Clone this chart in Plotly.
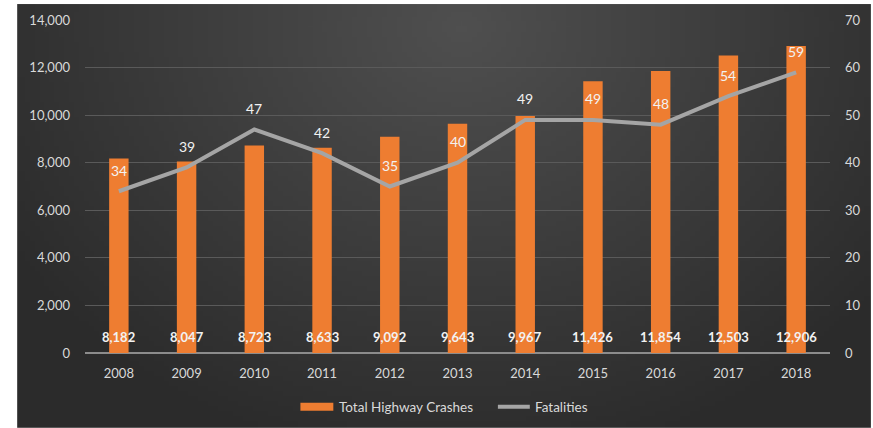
import base64
import struct
import zlib

import plotly.graph_objects as go

# ---- data ----
years = ["2008", "2009", "2010", "2011", "2012", "2013", "2014", "2015", "2016", "2017", "2018"]
total_crashes = [8182, 8047, 8723, 8633, 9092, 9643, 9967, 11426, 11854, 12503, 12906]
fatalities = [34, 39, 47, 42, 35, 40, 49, 49, 48, 54, 59]
series_names = ["Total Highway Crashes", "Fatalities"]

W, H = 873, 428
L, R, T, B = 85, 41, 19, 75
PW, PH = W - L - R, H - T - B

ORANGE = "#ee7d31"
LINE_GRAY = "#a5a5a5"
TEXT = "#d9d9d9"
FONT = "Lato, 'Open Sans', sans-serif"


def px_x(px):
    return (px - L) / PW


def px_y(py):
    return (H - B - py) / PH


def radial_png(w, h, c_in, c_out, cx, cy, rx, ry):
    """Small PNG with a soft radial gray gradient, returned as a data URI."""
    raw = bytearray()
    for j in range(h):
        raw.append(0)
        for i in range(w):
            dx = (i / (w - 1) - cx) / rx
            dy = (j / (h - 1) - cy) / ry
            d = min(1.0, (dx * dx + dy * dy) ** 0.5)
            v = int(round(c_in + (c_out - c_in) * d))
            raw += bytes((v, v, v))

    def chunk(tag, data):
        c = struct.pack(">I", len(data)) + tag + data
        return c + struct.pack(">I", zlib.crc32(tag + data) & 0xFFFFFFFF)

    png = b"\x89PNG\r\n\x1a\n"
    png += chunk(b"IHDR", struct.pack(">IIBBBBB", w, h, 8, 2, 0, 0, 0))
    png += chunk(b"IDAT", zlib.compress(bytes(raw), 9))
    png += chunk(b"IEND", b"")
    return "data:image/png;base64," + base64.b64encode(png).decode()


bg = radial_png(172, 85, 0x4f, 0x2b, 0.52, 0.05, 0.62, 1.05)

# dark panel in pixel terms -> paper coordinates
bx0, bx1 = px_x(17), px_x(873)
by_top, by_bot = px_y(3), px_y(428)

fig = go.Figure()

fig.add_trace(go.Bar(
    x=years, y=total_crashes, name=series_names[0],
    marker=dict(color=ORANGE, line=dict(width=0)),
    yaxis="y",
))

fig.add_trace(go.Scatter(
    x=years, y=fatalities, name=series_names[1],
    mode="lines", line=dict(color=LINE_GRAY, width=4),
    yaxis="y2",
))

# value labels; category axes place annotations by category index
annotations = []
for i, v in enumerate(total_crashes):
    annotations.append(dict(
        x=i, y=0, xref="x", yref="y", yshift=16,
        text=f"<b>{v:,}</b>", showarrow=False,
        font=dict(family=FONT, size=13, color="#f2f2f2"),
    ))
for i, v in enumerate(fatalities):
    annotations.append(dict(
        x=i, y=v, xref="x", yref="y2", yshift=21,
        text=str(v), showarrow=False,
        font=dict(family=FONT, size=14, color="#f2f2f2"),
    ))

# legend drawn by hand: wide orange swatch and a gray line sample
leg_y = 407
annotations += [
    dict(x=px_x(338), y=px_y(leg_y), xref="paper", yref="paper",
         xanchor="left", yanchor="middle", showarrow=False,
         text=series_names[0], font=dict(family=FONT, size=13.5, color=TEXT)),
    dict(x=px_x(534), y=px_y(leg_y), xref="paper", yref="paper",
         xanchor="left", yanchor="middle", showarrow=False,
         text=series_names[1], font=dict(family=FONT, size=13.5, color=TEXT)),
]
shapes = [
    dict(type="rect", xref="paper", yref="paper",
         x0=px_x(301), x1=px_x(334), y0=px_y(411), y1=px_y(403),
         fillcolor=ORANGE, line=dict(width=0)),
    dict(type="line", xref="paper", yref="paper",
         x0=px_x(499), x1=px_x(531), y0=px_y(leg_y), y1=px_y(leg_y),
         line=dict(color=LINE_GRAY, width=4)),
]

fig.update_layout(
    width=W, height=H,
    margin=dict(l=L, r=R, t=T, b=B, pad=0),
    paper_bgcolor="white",
    plot_bgcolor="rgba(0,0,0,0)",
    font=dict(family=FONT, size=13, color=TEXT),
    bargap=0.713,
    showlegend=False,
    images=[dict(
        source=bg, xref="paper", yref="paper",
        x=bx0, y=by_top, sizex=bx1 - bx0, sizey=by_top - by_bot,
        xanchor="left", yanchor="top", sizing="stretch", layer="below",
    )],
    xaxis=dict(
        type="category", range=[-0.5, len(years) - 0.5],
        showgrid=False, showline=False, zeroline=False,
        ticks="", ticklabelstandoff=11, tickfont=dict(size=13, color=TEXT),
    ),
    yaxis=dict(
        range=[0, 14000], dtick=2000, tickformat=",",
        showgrid=True, gridcolor="#5a5a5a", gridwidth=1,
        zeroline=True, zerolinecolor="#8c8c8c", zerolinewidth=2,
        showline=False, ticks="", ticklabelstandoff=14,
        tickfont=dict(size=13, color=TEXT),
    ),
    yaxis2=dict(
        range=[0, 70], dtick=10, overlaying="y", side="right",
        showgrid=False, zeroline=False, showline=False,
        ticks="", ticklabelstandoff=14,
        tickfont=dict(size=13, color=TEXT),
    ),
    annotations=annotations,
    shapes=shapes,
)

fig.write_html("out.html")
